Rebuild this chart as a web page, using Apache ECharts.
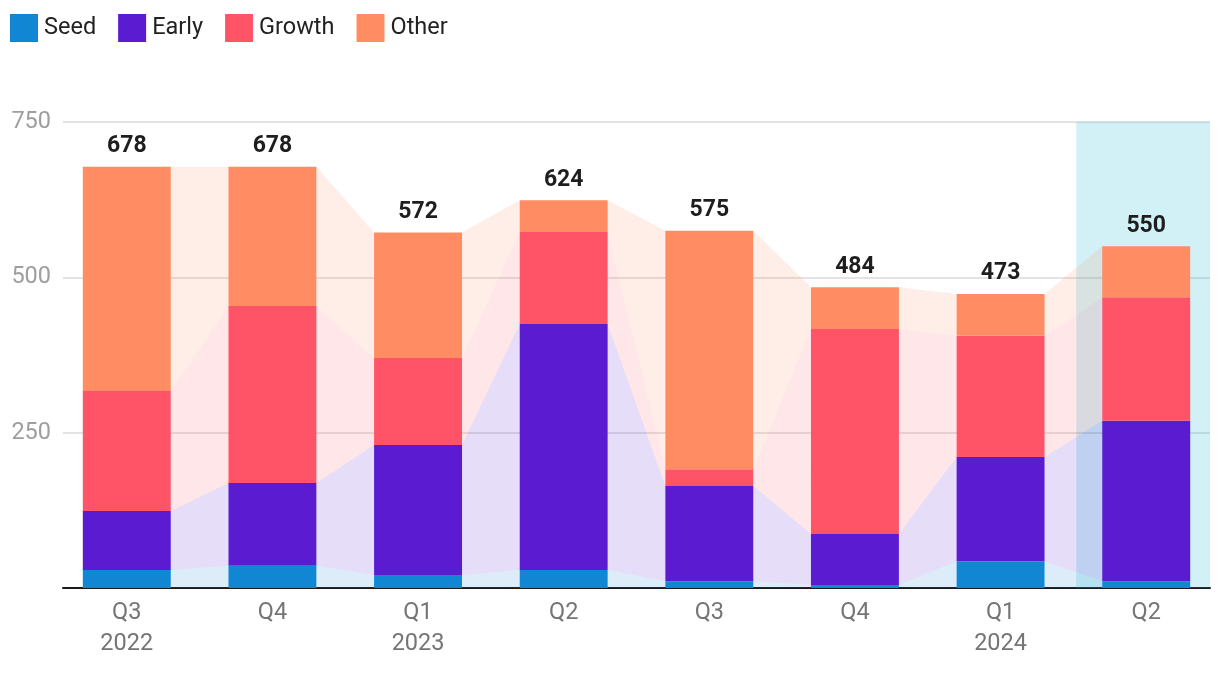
<!DOCTYPE html>
<html>
<head>
<meta charset="utf-8">
<script src="https://cdn.jsdelivr.net/npm/echarts@6/dist/echarts.min.js"></script>
<style>html,body{margin:0;padding:0;background:#fff;}#c{width:1220px;height:676px;}</style>
</head>
<body>
<div id="c"></div>
<script>
const categories = ['Q3\n2022','Q4','Q1\n2023','Q2','Q3','Q4','Q1\n2024','Q2'];
const seed   = [29, 36, 21, 29, 11, 5, 43, 11];
const early  = [95, 133, 209, 396, 153, 82, 168, 258];
const growth = [193, 285, 140, 148, 27, 330, 195, 199];
const other  = [361, 224, 202, 51, 384, 67, 67, 82];
const totals = [678, 678, 572, 624, 575, 484, 473, 550];
const yTicks = [0, 250, 500, 750];
const highlightRange = [6.52, 7.44];

const names = ['Seed','Early','Growth','Other'];
const colors = ['#1187d4','#5a1bd1','#ff5468','#ff8c62'];
const values = [seed, early, growth, other];
const half = 0.302; // half bar width in category units

// cumulative tops of each layer
const cum = [];
values.forEach((arr, k) => {
  cum.push(arr.map((v, i) => v + (k > 0 ? cum[k - 1][i] : 0)));
});

const series = [];
// flows between bars
const flowData = [];
for (let i = 0; i < categories.length - 1; i++) {
  for (let k = 0; k < names.length; k++) flowData.push([i, k]);
}
series.push({
  type: 'custom', name: 'flows', z: 1, silent: true,
  data: flowData,
  renderItem: function (params, api) {
    const i = api.value(0), k = api.value(1);
    const lo0 = k > 0 ? cum[k - 1][i] : 0, hi0 = cum[k][i];
    const lo1 = k > 0 ? cum[k - 1][i + 1] : 0, hi1 = cum[k][i + 1];
    const pts = [
      api.coord([i + half, lo0]), api.coord([i + half, hi0]),
      api.coord([i + 1 - half, hi1]), api.coord([i + 1 - half, lo1])
    ];
    return { type: 'polygon', shape: { points: pts }, style: { fill: colors[k], opacity: 0.15 } };
  },
  markArea: {
    silent: true,
    itemStyle: { color: 'rgba(32,185,210,0.2)' },
    data: [[{ xAxis: highlightRange[0] }, { xAxis: highlightRange[1] }]]
  }
});
// stacked bar segments
names.forEach((name, k) => {
  const isTop = k === names.length - 1;
  series.push({
    name: name, type: 'custom', z: 5,
    itemStyle: { color: colors[k] },
    encode: { x: 0, y: [1, 2] },
    data: cum[k].map((hi, i) => [i, k > 0 ? cum[k - 1][i] : 0, hi]),
    renderItem: function (params, api) {
      const i = api.value(0), lo = api.value(1), hi = api.value(2);
      const p1 = api.coord([i - half, hi]);
      const p2 = api.coord([i + half, lo]);
      const el = {
        type: 'rect',
        shape: { x: p1[0], y: p1[1], width: p2[0] - p1[0], height: p2[1] - p1[1] },
        style: { fill: colors[k] }
      };
      if (isTop) {
        el.textContent = {
          style: {
            text: String(totals[i]), fontFamily: 'Roboto', fontSize: 23,
            fontWeight: 'bold', fill: '#1e1e1e'
          }
        };
        el.textConfig = { position: 'top', distance: 9 };
      }
      return el;
    }
  });
});

const chart = echarts.init(document.getElementById('c'), null, { renderer: 'canvas' });
chart.setOption({
  animation: false,
  backgroundColor: '#fff',
  textStyle: { fontFamily: 'Roboto' },
  legend: {
    data: names, left: 5, top: 9, icon: 'rect', itemWidth: 28, itemHeight: 28, itemGap: 22,
    textStyle: { fontFamily: 'Roboto', fontSize: 23.5, color: '#222', padding: [0, 0, 0, 1] }
  },
  grid: { left: 63, right: 10, top: 122, bottom: 88 },
  xAxis: {
    type: 'value', min: -0.438, max: 7.438,
    axisLine: { show: true, lineStyle: { color: '#1a1a1a', width: 2 } },
    axisTick: { show: false },
    splitLine: { show: false },
    axisLabel: {
      customValues: categories.map((c, i) => i),
      formatter: v => categories[Math.round(v)] || '',
      fontFamily: 'Roboto', fontSize: 23.5, color: '#757575', lineHeight: 31, margin: 10
    }
  },
  yAxis: {
    type: 'value', min: 0, max: 750, interval: 250,
    axisLine: { show: false }, axisTick: { show: false },
    splitLine: { lineStyle: { color: '#e3e3e3', width: 2 } },
    axisLabel: {
      formatter: v => (v === yTicks[0] ? '' : String(v)),
      fontFamily: 'Roboto', fontSize: 23.5, color: '#9e9e9e', margin: 12
    }
  },
  series: series
});
</script>
</body>
</html>
